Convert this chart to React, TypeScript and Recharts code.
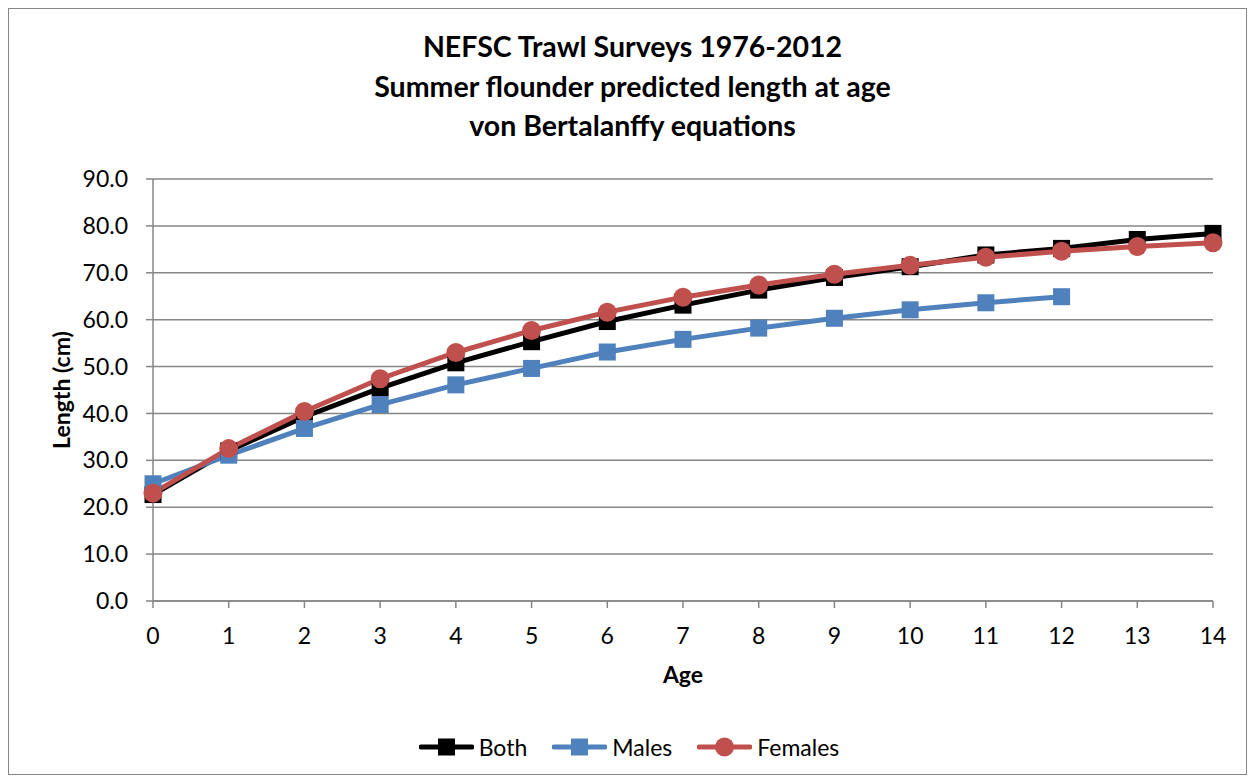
import React from "react";
import {
  LineChart,
  Line,
  XAxis,
  YAxis,
  CartesianGrid,
  Legend,
} from "recharts";

const ages = [0, 1, 2, 3, 4, 5, 6, 7, 8, 9, 10, 11, 12, 13, 14];
const both = [22.7, 32.0, 39.3, 45.4, 50.8, 55.3, 59.6, 63.1, 66.3, 69.0, 71.3, 73.8, 75.2, 77.1, 78.4];
const males = [25.0, 31.1, 36.8, 41.9, 46.1, 49.6, 53.1, 55.8, 58.2, 60.3, 62.1, 63.6, 64.9];
const females = [23.0, 32.5, 40.4, 47.4, 53.0, 57.7, 61.6, 64.8, 67.4, 69.7, 71.6, 73.3, 74.6, 75.6, 76.4];
const yTicks = [0, 10, 20, 30, 40, 50, 60, 70, 80, 90];
const titleLines = [
  "NEFSC Trawl Surveys 1976-2012",
  "Summer flounder predicted length at age",
  "von Bertalanffy equations",
];

const data = ages.map((age, i) => ({
  age,
  both: both[i],
  males: males[i],
  females: females[i],
}));

const series = [
  { key: "both", name: "Both", color: "#000000", marker: "square" },
  { key: "males", name: "Males", color: "#4F81BD", marker: "square" },
  { key: "females", name: "Females", color: "#C0504D", marker: "circle" },
];

const GRID = "#868686";
const FONT = "Lato, 'Open Sans', sans-serif";

function makeDot(color: string, marker: string) {
  return (props: any) => {
    const { cx, cy, index } = props;
    if (cx == null || cy == null || Number.isNaN(cy)) return <g key={`d-${index}`} />;
    if (marker === "circle") {
      return <circle key={`d-${index}`} cx={cx} cy={cy} r={9.5} fill={color} stroke="none" />;
    }
    return (
      <rect key={`d-${index}`} x={cx - 8.5} y={cy - 8.5} width={17} height={17} fill={color} stroke="none" />
    );
  };
}

function LegendContent() {
  return (
    <div
      style={{
        height: 40,
        display: "flex",
        justifyContent: "center",
        alignItems: "center",
        gap: 25,
        fontFamily: FONT,
        fontSize: 23,
        color: "#000",
        paddingLeft: 6,
      }}
    >
      {series.map((s) => (
        <div key={s.key} style={{ display: "flex", alignItems: "center", gap: 5 }}>
          <svg width={55} height={22}>
            <line x1={2} y1={11} x2={53} y2={11} stroke={s.color} strokeWidth={5} strokeLinecap="round" />
            {s.marker === "circle" ? (
              <circle cx={27.5} cy={11} r={9.5} fill={s.color} />
            ) : (
              <rect x={19} y={2.5} width={17} height={17} fill={s.color} />
            )}
          </svg>
          <span>{s.name}</span>
        </div>
      ))}
    </div>
  );
}

export default function App() {
  return (
    <div
      style={{
        position: "relative",
        width: 1239,
        height: 767,
        boxSizing: "border-box",
        border: `1px solid ${GRID}`,
        background: "#fff",
        fontFamily: FONT,
      }}
    >
      <div
        style={{
          position: "absolute",
          top: 18,
          left: 10,
          right: 0,
          textAlign: "center",
          fontWeight: 700,
          fontSize: 28.5,
          lineHeight: "39.5px",
          color: "#000",
        }}
      >
        {titleLines.map((t) => (
          <div key={t}>{t}</div>
        ))}
      </div>
      <LineChart
        width={1237}
        height={765}
        data={data}
        margin={{ top: 170, right: 33, left: 30, bottom: 7 }}
      >
        <CartesianGrid horizontal vertical={false} stroke={GRID} strokeWidth={1.5} />
        <XAxis
          dataKey="age"
          type="number"
          domain={[0, 14]}
          ticks={ages}
          interval={0}
          height={126}
          tickSize={7}
          tickMargin={20}
          stroke={GRID}
          strokeWidth={1.5}
          tick={{ fill: "#000", fontSize: 23, fontFamily: FONT }}
          label={{
            value: "Age",
            position: "insideTop",
            offset: 66,
            fill: "#000",
            fontSize: 23,
            fontWeight: 700,
            fontFamily: FONT,
          }}
        />
        <YAxis
          domain={[0, 90]}
          ticks={yTicks}
          interval={0}
          width={114}
          tickSize={7}
          tickMargin={18}
          stroke={GRID}
          strokeWidth={1.5}
          tickFormatter={(v: number) => v.toFixed(1)}
          tick={{ fill: "#000", fontSize: 23, fontFamily: FONT }}
          label={{
            value: "Length (cm)",
            angle: -90,
            position: "insideLeft",
            offset: 23,
            fill: "#000",
            fontSize: 23,
            fontWeight: 700,
            fontFamily: FONT,
            style: { textAnchor: "middle" },
          }}
        />
        <Legend verticalAlign="bottom" align="center" content={<LegendContent />} />
        {series.map((s) => (
          <Line
            key={s.key}
            type="linear"
            dataKey={s.key}
            name={s.name}
            stroke={s.color}
            strokeWidth={5}
            dot={makeDot(s.color, s.marker)}
            activeDot={false}
            connectNulls={false}
            isAnimationActive={false}
          />
        ))}
      </LineChart>
    </div>
  );
}
